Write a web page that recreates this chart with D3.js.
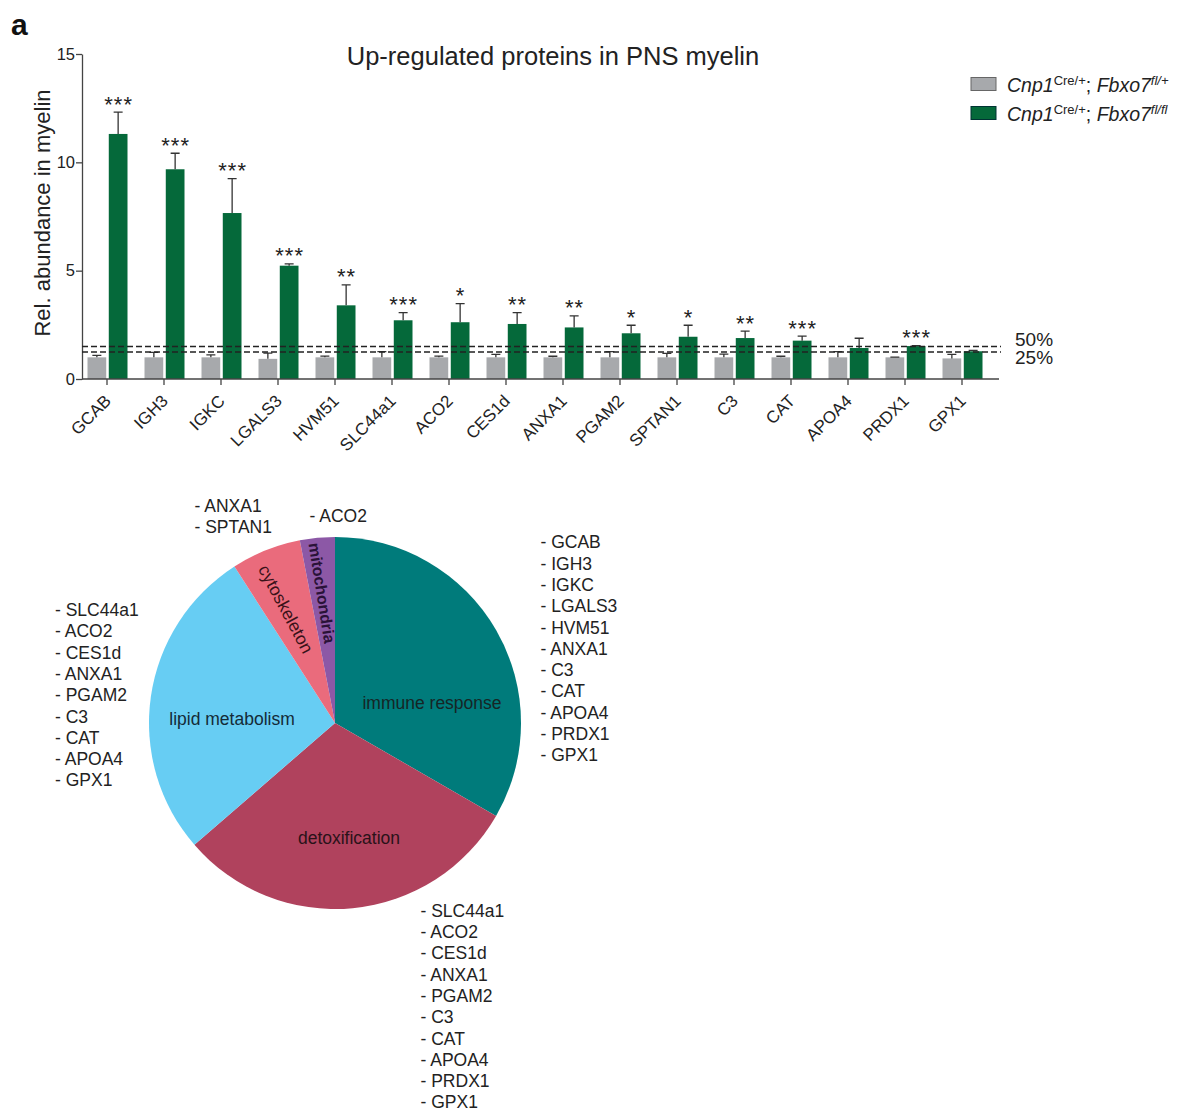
<!DOCTYPE html>
<html>
<head>
<meta charset="utf-8">
<script src="https://cdn.jsdelivr.net/npm/d3@7"></script>
<style>
  body { margin: 0; background: #fff; }
  svg { display: block; font-family: "Liberation Sans", Arial, Helvetica, sans-serif; }
</style>
</head>
<body>
<script>
// ---- bar chart data: relative abundance in PNS myelin ----
const categories = ["GCAB","IGH3","IGKC","LGALS3","HVM51","SLC44a1","ACO2","CES1d","ANXA1","PGAM2","SPTAN1","C3","CAT","APOA4","PRDX1","GPX1"];
const controlMean = [1.00,1.00,1.00,0.93,1.00,1.00,1.00,1.00,1.00,1.00,1.00,1.00,1.00,1.00,1.00,0.95];
const controlErr  = [0.09,0.23,0.11,0.26,0.06,0.26,0.06,0.14,0.05,0.26,0.18,0.15,0.05,0.26,0.01,0.19];
const mutantMean  = [11.31,9.68,7.66,5.23,3.40,2.71,2.62,2.54,2.38,2.11,1.95,1.89,1.77,1.43,1.52,1.28];
const mutantErr   = [1.01,0.74,1.59,0.08,0.94,0.35,0.86,0.52,0.53,0.37,0.53,0.32,0.21,0.45,0.02,0.04];
const significance = ["***","***","***","***","**","***","*","**","**","*","*","**","***","","***",""];
const yTicks = [0, 5, 10, 15];
const thresholdValues = [1.5, 1.25];
const thresholdLabels = ["50%", "25%"];

// ---- pie chart data: functional categories and their proteins ----
const pieCategories = ["immune response","detoxification","lipid metabolism","cytoskeleton","mitochondria"];
const immuneGenes = ["GCAB","IGH3","IGKC","LGALS3","HVM51","ANXA1","C3","CAT","APOA4","PRDX1","GPX1"];
const detoxGenes  = ["SLC44a1","ACO2","CES1d","ANXA1","PGAM2","C3","CAT","APOA4","PRDX1","GPX1"];
const lipidGenes  = ["SLC44a1","ACO2","CES1d","ANXA1","PGAM2","C3","CAT","APOA4","GPX1"];
const cytoGenes   = ["ANXA1","SPTAN1"];
const mitoGenes   = ["ACO2"];
const pieGeneLists = [immuneGenes, detoxGenes, lipidGenes, cytoGenes, mitoGenes];

const W = 1178, H = 1113;
const GRAY = "#a7a9ac", GREEN = "#05693a", INK = "#222";

const svg = d3.select("body").append("svg")
  .attr("width", W).attr("height", H)
  .attr("viewBox", `0 0 ${W} ${H}`);
svg.append("rect").attr("width", W).attr("height", H).attr("fill", "#fff");

// panel letter
svg.append("text").attr("x", 11).attr("y", 35)
  .attr("font-size", 30).attr("font-weight", "bold").attr("fill", "#111").text("a");

// ---------------- bar chart ----------------
const x = d3.scaleBand().domain(categories).range([78.5, 990.5]).padding(0);
const xg = d3.scaleBand().domain(["ctrl","mut"]).range([-19.5, 20.5]).paddingInner(0.12);
const y = d3.scaleLinear().domain([0, 15]).range([379, 54]);
const cx = c => x(c) + x.bandwidth() / 2;

const chart = svg.append("g");

// title
chart.append("text").attr("x", 553).attr("y", 65).attr("text-anchor", "middle")
  .attr("font-size", 25.5).attr("fill", INK).text("Up-regulated proteins in PNS myelin");

// y axis
const yAxis = chart.append("g").attr("transform", "translate(82,0)")
  .call(d3.axisLeft(y).tickValues(yTicks).tickSize(6).tickSizeOuter(0).tickPadding(1));
yAxis.select(".domain").attr("stroke", "#444").attr("stroke-width", 1.3);
yAxis.selectAll(".tick line").attr("stroke", "#444").attr("stroke-width", 1.3);
yAxis.selectAll(".tick text").attr("font-size", 16.5).attr("fill", INK)
  .attr("font-family", "Liberation Sans, Arial, sans-serif");

chart.append("text")
  .attr("transform", "translate(50,213) rotate(-90)")
  .attr("text-anchor", "middle").attr("font-size", 22).attr("fill", INK)
  .text("Rel. abundance in myelin");

// bars
const groups = chart.append("g").selectAll("g").data(categories).join("g")
  .attr("transform", c => `translate(${cx(c)},0)`);

groups.append("rect")
  .attr("x", xg("ctrl")).attr("width", xg.bandwidth())
  .attr("y", (c, i) => y(controlMean[i])).attr("height", (c, i) => y(0) - y(controlMean[i]))
  .attr("fill", GRAY);
groups.append("rect")
  .attr("x", xg("mut")).attr("width", xg.bandwidth())
  .attr("y", (c, i) => y(mutantMean[i])).attr("height", (c, i) => y(0) - y(mutantMean[i]))
  .attr("fill", GREEN);

// upper error bars
function errorBar(sel, key, means, errs) {
  const mx = xg(key) + xg.bandwidth() / 2;
  sel.append("path")
    .attr("d", (c, i) => {
      const top = y(means[i] + errs[i]), base = y(means[i]);
      return `M${mx},${base}V${top}M${mx - 4.5},${top}H${mx + 4.5}`;
    })
    .attr("stroke", "#333").attr("stroke-width", 1.3).attr("fill", "none");
}
errorBar(groups, "ctrl", controlMean, controlErr);
errorBar(groups, "mut", mutantMean, mutantErr);

// significance stars
groups.append("text")
  .attr("x", xg("mut") + xg.bandwidth() / 2 + 0.5)
  .attr("y", (c, i) => y(mutantMean[i] + mutantErr[i]) - 0.5)
  .attr("text-anchor", "middle").attr("font-size", 22).attr("letter-spacing", 1)
  .attr("fill", INK)
  .text((c, i) => significance[i]);

// threshold dashed lines
const thr = chart.append("g");
thresholdValues.forEach((v, i) => {
  thr.append("line").attr("x1", 82).attr("x2", 1001)
    .attr("y1", y(v)).attr("y2", y(v))
    .attr("stroke", "#222").attr("stroke-width", 1.5).attr("stroke-dasharray", "6,3");
});
chart.append("text").attr("x", 1015).attr("y", y(thresholdValues[0]) - 1)
  .attr("font-size", 19).attr("fill", INK).text(thresholdLabels[0]);
chart.append("text").attr("x", 1015).attr("y", y(thresholdValues[1]) + 12.5)
  .attr("font-size", 19).attr("fill", INK).text(thresholdLabels[1]);

// x axis
const xAxis = chart.append("g").attr("transform", `translate(0,${y(0)})`)
  .call(d3.axisBottom(x).tickSize(6).tickSizeOuter(0));
xAxis.select(".domain").remove();
xAxis.append("line").attr("x1", 82).attr("x2", 999).attr("y1", 0).attr("y2", 0)
  .attr("stroke", "#444").attr("stroke-width", 1.3);
xAxis.selectAll(".tick line").attr("stroke", "#444").attr("stroke-width", 1.3);
xAxis.selectAll(".tick text")
  .attr("x", 0).attr("y", 0).attr("dy", 0)
  .attr("transform", "translate(5,23) rotate(-45)")
  .attr("text-anchor", "end").attr("font-size", 17).attr("fill", INK)
  .attr("font-family", "Liberation Sans, Arial, sans-serif");

// legend
const legendItems = [
  { fill: GRAY, stroke: "#666", sup2: "fl/+" },
  { fill: GREEN, stroke: "#033", sup2: "fl/fl" }
];
const legend = chart.append("g");
legendItems.forEach((d, i) => {
  const ly = 77.5 + i * 29;
  legend.append("rect").attr("x", 971).attr("y", ly).attr("width", 25).attr("height", 13)
    .attr("fill", d.fill).attr("stroke", d.stroke).attr("stroke-width", 1);
  const t = legend.append("text").attr("x", 1007).attr("y", ly + 14.5)
    .attr("font-size", 19.5).attr("fill", INK);
  t.append("tspan").attr("font-style", "italic").text("Cnp1");
  t.append("tspan").attr("font-size", 13).attr("dy", -7.5).text("Cre/+");
  t.append("tspan").attr("dy", 7.5).text("; ");
  t.append("tspan").attr("font-style", "italic").text("Fbxo7");
  t.append("tspan").attr("font-size", 13).attr("font-style", "italic").attr("dy", -7.5).text(d.sup2);
});

// ---------------- pie chart ----------------
const pieColors = ["#007b7b", "#b0425d", "#67cdf3", "#ea6b7c", "#8c58a6"];
const pieInk = ["#162626", "#2a1219", "#142b38", "#3a1219", "#2a1238"];
const pieData = pieCategories.map((name, i) => ({ name, count: pieGeneLists[i].length }));
const pie = d3.pie().sort(null).value(d => d.count).startAngle(0).endAngle(2 * Math.PI);
const arc = d3.arc().innerRadius(0).outerRadius(186);
const pc = [335, 723];
const pieG = svg.append("g").attr("transform", `translate(${pc[0]},${pc[1]})`);
const arcs = pie(pieData);
pieG.selectAll("path").data(arcs).join("path")
  .attr("d", arc).attr("fill", (d, i) => pieColors[i]);

// slice labels (offset from centre, rotation in degrees)
const sliceLabelLayout = [
  { dx: 97, dy: -20, rot: 0 },
  { dx: 14, dy: 115, rot: 0 },
  { dx: -103, dy: -4, rot: 0 },
  { dx: -49, dy: -114, rot: 62 },
  { dx: -13, dy: -130, rot: 81 }
];
pieG.selectAll("text.slice").data(arcs).join("text").attr("class", "slice")
  .attr("transform", (d, i) => `translate(${sliceLabelLayout[i].dx},${sliceLabelLayout[i].dy}) rotate(${sliceLabelLayout[i].rot})`)
  .attr("text-anchor", "middle").attr("dy", "0.35em")
  .attr("font-size", (d, i) => i === 4 ? 16 : 17.5)
  .attr("font-weight", (d, i) => i === 4 ? "bold" : "normal")
  .attr("fill", (d, i) => pieInk[i])
  .text(d => d.data.name);

// protein lists next to each slice
const listLayout = [
  { x: 540.5, y: 548.3 },
  { x: 420.5, y: 916.7 },
  { x: 55, y: 616 },
  { x: 194.5, y: 511.7 },
  { x: 309.5, y: 521.7 }
];
const lineGap = 21.3;
pieGeneLists.forEach((genes, k) => {
  const g = svg.append("g");
  g.selectAll("text").data(genes).join("text")
    .attr("x", listLayout[k].x).attr("y", (d, j) => listLayout[k].y + j * lineGap)
    .attr("font-size", 17.5).attr("fill", INK)
    .text(d => "- " + d);
});
</script>
</body>
</html>
